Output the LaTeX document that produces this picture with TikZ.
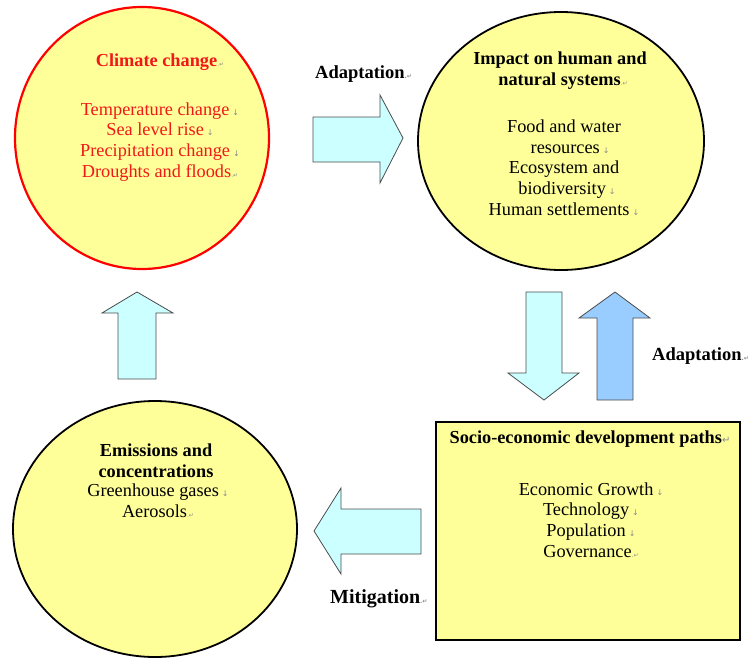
\documentclass[tikz,border=0pt]{standalone}
\usepackage{fontspec}
\setmainfont{Liberation Serif}
\newfontfamily\markfont{DejaVu Sans}
\usetikzlibrary{shapes.geometric}
\definecolor{paleyellow}{HTML}{FFFF99}
\definecolor{palecyan}{HTML}{CCFFFF}
\definecolor{paleblue}{HTML}{99CCFF}
\definecolor{climred}{HTML}{F01818}
\definecolor{markgray}{HTML}{8A8A8A}
% Word-style formatting marks
\newcommand\brkmk{\,{\markfont\fontsize{8}{8}\selectfont\color{markgray}↓}}
\newcommand\parmk{{\markfont\fontsize{6}{6}\selectfont\color{markgray}.↵}}
\newcommand\retmk{{\markfont\fontsize{10}{10}\selectfont\color{markgray}↵}}
\tikzset{
  x=1pt, y=-1pt,
  bubble/.style={ellipse, draw=black, line width=1.8pt, fill=paleyellow, inner sep=0pt},
  blockarrow/.style={draw=black!70, line width=0.8pt, fill=palecyan, line join=miter},
  % multi-line blocks are placed by the baseline of their last line
  txt/.style={align=center, inner sep=0pt, anchor=base, font=\fontsize{18.3}{20.6}\selectfont},
  lbl/.style={inner sep=0pt, font=\fontsize{18.5}{20}\selectfont\bfseries, anchor=base west},
}
\begin{document}
\begin{tikzpicture}
\useasboundingbox (0,0) rectangle (750,659);

% ---- the four stages ----
\node[bubble, draw=red, line width=2.2pt, minimum width=254pt, minimum height=262pt] (climate) at (142,138) {};
\node[bubble, minimum width=286pt, minimum height=258pt] (impact) at (561,141) {};
\node[bubble, minimum width=284pt, minimum height=256pt] (emis) at (155,529) {};
\node[draw=black, line width=2.6pt, fill=paleyellow, minimum width=304pt, minimum height=218pt, inner sep=0pt] (socio) at (588,531) {};

% ---- texts ----
\node[txt, text=climred] (climtitle) at (160,66) {\textbf{Climate change}\parmk};
\node[txt, text=climred] (climitems) at (160,177)
  {Temperature change\brkmk\\Sea level rise\brkmk\\Precipitation change\brkmk\\Droughts and floods\parmk};

\node[txt] (imptitle) at (560,85) {\textbf{Impact on human and}\\\textbf{\,\,natural systems}\parmk};
\node[txt] (impitems) at (564,215)
  {Food and water\\\,\,\,\,resources\brkmk\\Ecosystem and\\\,\,biodiversity\brkmk\\Human settlements\brkmk};

\node[txt] (emititle) at (156,477) {\textbf{Emissions and}\\\textbf{concentrations}};
\node[txt] (emiitems) at (158,517) {Greenhouse gases\brkmk\\Aerosols\parmk};

\node[txt] (sociotitle) at (590,443) {\textbf{Socio-economic development paths}\retmk};
\node[txt] (socioitems) at (591,557)
  {Economic Growth\brkmk\\Technology\brkmk\\Population\brkmk\\Governance\parmk};

% ---- block arrows between the stages ----
\coordinate (rA) at (313,117);
\filldraw[blockarrow] (rA) -- (380,117) -- (380,95) -- (403,138) -- (380,183) -- (380,162) -- (313,162) -- cycle;
\coordinate (dA) at (526,292);
\filldraw[blockarrow] (dA) -- (562,292) -- (562,373) -- (579,373) -- (544,400) -- (508,373) -- (526,373) -- cycle;
\coordinate (uA) at (597,400);
\filldraw[blockarrow, fill=paleblue] (uA) -- (633,400) -- (633,318) -- (650,318) -- (615,292) -- (579,318) -- (597,318) -- cycle;
\coordinate (lA) at (421,509);
\filldraw[blockarrow] (lA) -- (421,554) -- (341,554) -- (341,574) -- (314,531) -- (341,488) -- (341,509) -- cycle;
\coordinate (vA) at (118,379);
\filldraw[blockarrow] (vA) -- (156,379) -- (156,313) -- (173,313) -- (137,292) -- (102,313) -- (118,313) -- cycle;

% ---- arrow labels ----
\node[lbl] (adapt1) at (315,78) {Adaptation\parmk};
\node[lbl] (adapt2) at (652,360) {Adaptation\parmk};
\node[lbl, font=\fontsize{20}{22}\selectfont\bfseries] (mitig) at (330,603) {Mitigation\parmk};
\end{tikzpicture}
\end{document}
